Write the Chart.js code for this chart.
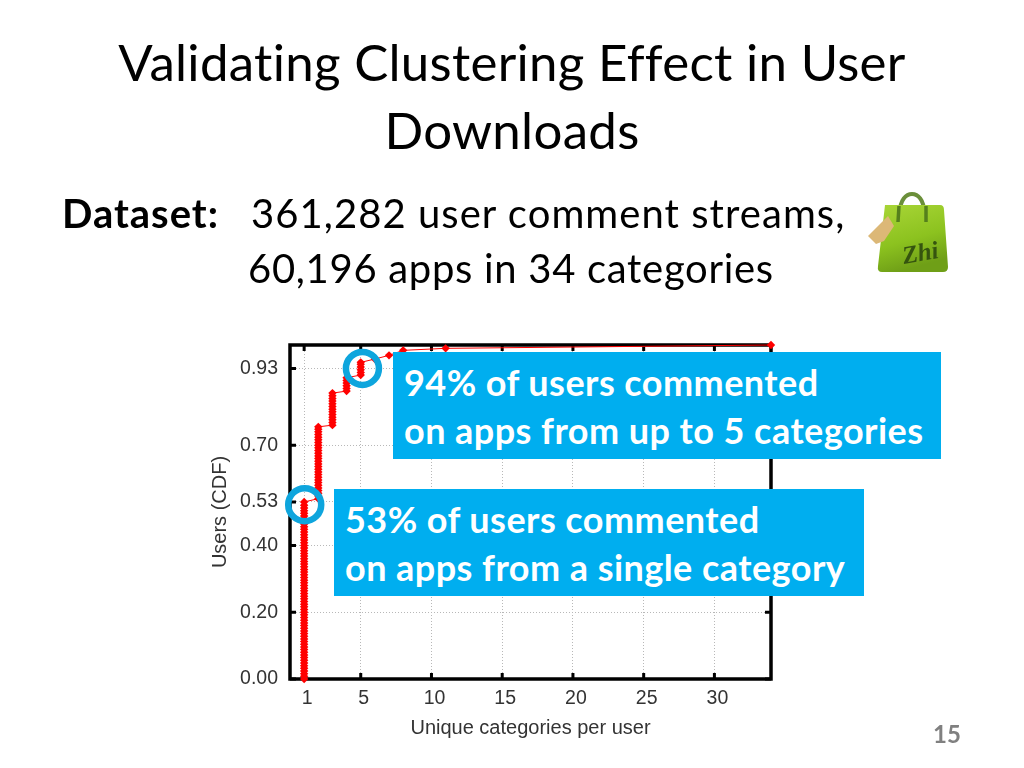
<!DOCTYPE html>
<html>
<head>
<meta charset="utf-8">
<title>Validating Clustering Effect in User Downloads</title>
<script src="https://cdn.jsdelivr.net/npm/chart.js@4"></script>
<style>
    html, body { margin: 0; padding: 0; background: #fff; }
    #slide { position: relative; width: 1024px; height: 768px; overflow: hidden; font-family: Lato, sans-serif; color: #000; }
    #slide canvas { position: absolute; left: 0; top: 0; }
    .txt { position: absolute; white-space: nowrap; }
    .title { left: 0; width: 1024px; text-align: center; font-size: 51px; line-height: 68px; letter-spacing: 0.3px; }
    .body { font-size: 40px; line-height: 48px; letter-spacing: 1px; }
    .note { position: absolute; background: #00aeef; color: #fff; font-weight: 700; font-size: 36px; letter-spacing: 0.45px; line-height: 48px; box-sizing: border-box; padding: 6px 0 0 11px; white-space: nowrap; }
    #pageNo { left: 933px; top: 719px; font-size: 24px; font-weight: 700; color: #808080; }
    #bag { position: absolute; left: 864px; top: 188px; }
</style>
</head>
<body>
<div id="slide">
    <canvas id="cdfChart" width="1024" height="768"></canvas>

    <div class="txt title" style="top:28px">Validating Clustering Effect in User</div>
    <div class="txt title" style="top:96px">Downloads</div>
    <div class="txt body" style="left:62px;top:189px;font-weight:700">Dataset:</div>
    <div class="txt body" style="left:251px;top:189px;letter-spacing:1.05px">361,282 user comment streams,</div>
    <div class="txt body" style="left:248px;top:244px;letter-spacing:0.7px">60,196 apps in 34 categories</div>

    <svg id="bag" width="88" height="90" viewBox="0 0 88 90">
        <defs>
            <linearGradient id="bagFill" x1="0" y1="0" x2="0.3" y2="1">
                <stop offset="0" stop-color="#a9d637"/>
                <stop offset="0.6" stop-color="#8cc21f"/>
                <stop offset="1" stop-color="#6f9f17"/>
            </linearGradient>
        </defs>
        <path d="M36 24 C36 0 60 0 60 24" fill="none" stroke="#6b8f3a" stroke-width="4"/>
        <path d="M21 17 L76 17 Q80 17 80 22 L84 79 Q84 84 79 84 L18 84 Q13 84 14 78 Z" fill="url(#bagFill)"/>
        <path d="M35 18 L34 34 M62 18 L62 34" stroke="#55801c" stroke-width="3.5"/>
        <path d="M24 28 L4 48 L12 56 L20 53 L30 38 Z" fill="#dcb877"/>
        <text x="40" y="76" font-family="Liberation Serif" font-style="italic" font-weight="700" font-size="25" fill="#35540f" transform="rotate(-10 40 76)">Zhi</text>
    </svg>

    <div class="note" style="left:393px;top:352px;width:548px;height:107px">94% of users commented<br>on apps from up to 5 categories</div>
    <div class="note" style="left:334px;top:489px;width:530px;height:107px">53% of users commented<br>on apps from a single category</div>

    <div class="txt" id="pageNo">15</div>
</div>

<script>
// CDF values, one list per category count
const cdfAt1 = [0, 0.008, 0.016, 0.024, 0.032, 0.04, 0.048, 0.056, 0.064, 0.072, 0.08, 0.088, 0.096, 0.104, 0.112, 0.12, 0.128, 0.136, 0.144, 0.152, 0.16, 0.168, 0.176, 0.184, 0.192, 0.2, 0.208, 0.216, 0.224, 0.232, 0.24, 0.248, 0.256, 0.264, 0.272, 0.28, 0.288, 0.296, 0.304, 0.312, 0.32, 0.328, 0.336, 0.344, 0.352, 0.36, 0.368, 0.376, 0.384, 0.392, 0.4, 0.408, 0.416, 0.424, 0.432, 0.44, 0.448, 0.456, 0.464, 0.472, 0.48, 0.488, 0.496, 0.504, 0.512, 0.52, 0.53];
const cdfAt2 = [0.54, 0.548, 0.556, 0.564, 0.572, 0.58, 0.588, 0.596, 0.604, 0.612, 0.62, 0.628, 0.636, 0.644, 0.652, 0.66, 0.668, 0.676, 0.684, 0.692, 0.7, 0.708, 0.716, 0.724, 0.732, 0.74, 0.748, 0.755];
const cdfAt3 = [0.76, 0.768, 0.776, 0.784, 0.792, 0.8, 0.808, 0.816, 0.824, 0.832, 0.84, 0.848, 0.856];
const cdfAt4 = [0.862, 0.87, 0.878, 0.886, 0.894, 0.902];
const cdfAt5 = [0.91, 0.918, 0.926, 0.934, 0.942, 0.948];
const tailCategories = [6, 7, 8, 11, 34];
const tailCdf = [0.958, 0.969, 0.984, 0.99, 1];

const xTicks = [1, 5, 10, 15, 20, 25, 30];
const yTicks = [0, 0.2, 0.4, 0.53, 0.7, 0.93];
const ringCategories = [1.04, 5.12];
const ringCdf = [0.522, 0.93];

const cdfPoints = [];
[cdfAt1, cdfAt2, cdfAt3, cdfAt4, cdfAt5].forEach(function (list, i) {
    list.forEach(function (v) { cdfPoints.push({ x: i + 1, y: v }); });
});
tailCategories.forEach(function (c, i) { cdfPoints.push({ x: c, y: tailCdf[i] }); });

// frame and inward tick marks on all four sides
const framePlugin = {
    id: 'frame',
    beforeDatasetsDraw: function (chart) {
        const ctx = chart.ctx, a = chart.chartArea, sx = chart.scales.x, sy = chart.scales.y;
        ctx.save();
        ctx.strokeStyle = '#000';
        ctx.lineWidth = 3.5;
        ctx.strokeRect(a.left, a.top, a.right - a.left, a.bottom - a.top);
        ctx.lineWidth = 3;
        ctx.beginPath();
        xTicks.forEach(function (t) {
            const px = sx.getPixelForValue(t);
            ctx.moveTo(px, a.bottom); ctx.lineTo(px, a.bottom - 6);
            ctx.moveTo(px, a.top); ctx.lineTo(px, a.top + 6);
        });
        yTicks.forEach(function (t) {
            const py = sy.getPixelForValue(t);
            ctx.moveTo(a.left, py); ctx.lineTo(a.left + 6, py);
            ctx.moveTo(a.right, py); ctx.lineTo(a.right - 6, py);
        });
        ctx.stroke();
        ctx.restore();
    }
};

const tickFont = { family: 'Liberation Sans', size: 19.5 };
const titleFont = { family: 'Liberation Sans', size: 20 };
const gridStyle = { color: '#b8b8b8', lineWidth: 1, drawTicks: false };
const gridBorder = { display: false, dash: [1, 2] };

new Chart(document.getElementById('cdfChart'), {
    type: 'scatter',
    data: {
        datasets: [
            {
                data: cdfPoints,
                showLine: true,
                borderColor: '#ff0000',
                borderWidth: 1,
                pointStyle: 'rectRot',
                pointRadius: 4.2,
                pointBackgroundColor: '#ff0000',
                pointBorderColor: '#ff0000',
                pointBorderWidth: 0,
                clip: false,
                order: 2
            },
            {
                data: ringCategories.map(function (c, i) { return { x: c, y: ringCdf[i] }; }),
                showLine: false,
                pointStyle: 'circle',
                pointRadius: 16.5,
                pointBackgroundColor: 'transparent',
                pointBorderColor: '#0ea5dd',
                pointBorderWidth: 6.5,
                clip: false,
                order: 1
            }
        ]
    },
    options: {
        responsive: false,
        animation: false,
        events: [],
        layout: { padding: { left: 208, top: 345, right: 253, bottom: 28 } },
        plugins: { legend: { display: false }, tooltip: { enabled: false } },
        scales: {
            x: {
                type: 'linear',
                min: 0,
                max: 34,
                afterBuildTicks: function (scale) { scale.ticks = xTicks.map(function (v) { return { value: v }; }); },
                afterFit: function (scale) { scale.height = 61; },
                grid: gridStyle,
                border: gridBorder,
                ticks: { font: tickFont, color: '#333', padding: 8, labelOffset: 3, maxRotation: 0, callback: function (v) { return String(v); } },
                title: { display: true, text: 'Unique categories per user', font: titleFont, color: '#333', padding: 0 }
            },
            y: {
                type: 'linear',
                min: 0,
                max: 1,
                afterBuildTicks: function (scale) { scale.ticks = yTicks.map(function (v) { return { value: v }; }); },
                afterFit: function (scale) { scale.width = 82; },
                grid: gridStyle,
                border: gridBorder,
                ticks: { font: tickFont, color: '#333', padding: 12, callback: function (v) { return v.toFixed(2); } },
                title: { display: true, text: 'Users (CDF)', font: titleFont, color: '#333', padding: 0 }
            }
        }
    },
    plugins: [framePlugin]
});
</script>
</body>
</html>
